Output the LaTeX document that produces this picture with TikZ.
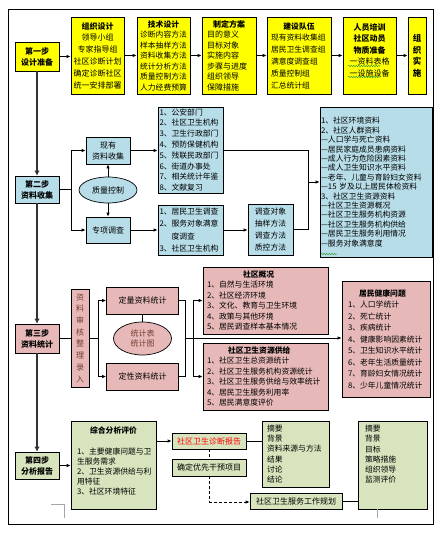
\documentclass[tikz,border=0pt]{standalone}
\usepackage{fontspec}
\setmainfont{Noto Sans CJK SC}
\usetikzlibrary{arrows.meta,shapes.geometric,decorations.pathmorphing}
\definecolor{yel}{RGB}{255,255,0}
\definecolor{blu}{RGB}{183,221,232}
\definecolor{pnk}{RGB}{230,185,184}
\definecolor{grn}{RGB}{215,228,189}
\definecolor{vbrown}{RGB}{120,60,50}
\definecolor{sqg}{RGB}{60,160,60}
\newcommand{\fsz}[2]{\fontsize{#1}{#2}\selectfont}
\newcommand{\tbox}[3]{\begin{minipage}[t][#1][t]{#2}\raggedright #3\end{minipage}}
\begin{document}
\begin{tikzpicture}[x=1pt,y=-1pt,
  box/.style={draw, line width=0.7pt, inner sep=0pt, align=center, font=\fsz{8}{10.5}},
  yb/.style={box, fill=yel},
  bb/.style={box, fill=blu},
  pb/.style={box, fill=pnk},
  gb/.style={box, fill=grn},
  stepbox/.style={font=\bfseries\fsz{8}{11}, minimum width=44pt},
  ln/.style={line width=0.8pt},
  arr/.style={line width=0.8pt, -{Latex[length=4pt,width=3.5pt]}},
  mainln/.style={line width=1.2pt, black!80, -{Latex[length=5pt,width=5.5pt]}},
  dsh/.style={line width=0.8pt, dash pattern=on 3pt off 2pt},
  squig/.style={sqg, line width=0.5pt, decorate, decoration={snake, amplitude=0.7pt, segment length=2.5pt}},
  stray/.style={gray!70, line width=0.7pt}
]
\useasboundingbox (0,0) rectangle (441,535);
\fill[white] (0,0) rectangle (441,535);
\draw[line width=1pt] (8,10) rectangle (433,524);

% ---------- step 1 ----------
\node[yb, stepbox, minimum height=29pt] (s1) at (37,56.5) {第一步\\设计准备};
\node[yb, minimum width=53pt, minimum height=77pt, font=\fsz{8}{11.8}] (org) at (97.5,55.5)
  {\textbf{组织设计}\\领导小组\\专家指导组\\社区诊断计划\\确定诊断社区\\统一安排部署};
\node[yb, minimum width=53pt, minimum height=77pt, font=\fsz{7.8}{10.5}] (tech) at (163.5,55.5)
  {\textbf{技术设计}\\诊断内容方法\\样本抽样方法\\资料收集方法\\统计分析方法\\质量控制方法\\人力经费预算};
\node[yb, minimum width=54pt, minimum height=77pt, align=left, text width=44pt, font=\fsz{8}{10.5}] (plan) at (229,55.5)
  {\makebox[44pt]{\textbf{制定方案}}\\目的意义\\目标对象\\实施内容\\步骤与进度\\组织领导\\保障措施};
\node[yb, minimum width=64pt, minimum height=77pt, align=left, text width=56pt, font=\fsz{7.8}{11.8}] (team) at (299,55.5)
  {\makebox[56pt]{\textbf{建设队伍}}\\现有资料收集组\\居民卫生调查组\\满意度调查组\\质量控制组\\汇总统计组};
\node[yb, minimum width=53pt, minimum height=77pt, font=\fsz{8}{11.5}] (train) at (369.5,55.5)
  {\textbf{人员培训}\\\textbf{社区动员}\\\textbf{物质准备}\\一资料表格\\一设施设备\\ \mbox{}};
\node[yb, minimum width=18pt, minimum height=77pt, font=\bfseries\fsz{8.5}{11.5}] (impl) at (417,55.5)
  {组\\织\\实\\施};
\foreach \a/\b in {s1/org, org/tech, tech/plan, plan/team, team/train, train/impl}
  \draw[arr] (\a.east) -- (\a.east -| \b.west);
\draw[squig] (348,66) -- (380,66);
\draw[squig] (348,77) -- (380,77);

% ---------- step 2 ----------
\node[bb, stepbox, minimum height=27pt] (s2) at (37,189.5) {第二步\\资料收集};
\node[bb, minimum width=44pt, minimum height=27pt, font=\fsz{8}{11}] (xy) at (108,150.5) {现有\\资料收集};
\node[bb, ellipse, minimum width=58pt, minimum height=26pt] (qc) at (108,190) {质量控制};
\node[bb, minimum width=44pt, minimum height=26pt] (zx) at (108,230) {专项调查};
\node[bb, minimum width=65pt, minimum height=86pt, align=left, text width=62pt, font=\fsz{7.8}{10.8}] (l1) at (190.5,150)
  {1、公安部门\\2、社区卫生机构\\3、卫生行政部门\\4、预防保健机构\\5、残联民政部门\\6、街道办事处\\7、相关统计年鉴\\8、文献复习};
\node[bb, minimum width=65pt, minimum height=50pt, align=left, text width=62pt, font=\fsz{7.8}{12.2}] (l2) at (190.5,230)
  {1、居民卫生调查\\2、服务对象满意\\\hspace*{12pt}度调查\\3、社区卫生机构};
\node[bb, minimum width=45pt, minimum height=51pt, font=\fsz{7.8}{12}] (dc) at (270.5,229.5)
  {调查对象\\抽样方法\\调查方法\\质控方法};
\node[bb, minimum width=112pt, minimum height=150pt, align=left, text width=110pt, font=\fsz{7.8}{9.4}] (big) at (376,182)
  {1、社区环境资料\\2、社区人群资料\\—人口学与死亡资料\\—居民家庭成员患病资料\\—成人行为危险因素资料\\—成人卫生知识水平资料\\—老年、儿童与育龄妇女资料\\—15 岁及以上居民体检资料\\3、社区卫生资源资料\\—社区卫生资源概况\\—社区卫生服务机构资源\\—社区卫生服务机构供给\\—居民卫生服务利用情况\\—服务对象满意度};
\draw[squig] (321,254) -- (337,254);

\draw[mainln] (s1.south) -- (s2.north);
\coordinate (b2) at (71,189.5);
\draw[ln] (s2.east) -- (b2);
\draw[arr] (b2) |- (xy.west);
\draw[arr] (b2) |- (zx.west);
\draw[arr] (qc.north) -- (xy.south);
\draw[arr] (qc.south) -- (zx.north);
\draw[arr] (xy.east) -- (xy.east -| l1.west);
\draw[arr] (zx.east) -- (zx.east -| l2.west);
\draw[arr] (l2.east) -- (l2.east -| dc.west);
\coordinate (r2) at (308,182);
\draw[ln] (l1.east) -| (r2);
\draw[ln] (dc.east) -| (r2);
\draw[arr] (r2) -- (big.west);

% ---------- step 3 ----------
\node[pb, stepbox, minimum height=29pt] (s3) at (37,338.5) {第三步\\资料统计};
\node[pb, minimum width=18pt, minimum height=98pt, font=\fsz{8}{11.7}, text=vbrown] (vb) at (80,338)
  {资\\料\\审\\核\\整\\理\\录\\入};
\node[pb, minimum width=72pt, minimum height=27pt] (dl) at (142.5,300.5) {定量资料统计};
\node[pb, minimum width=72pt, minimum height=27pt] (dx) at (142.5,376.5) {定性资料统计};
\node[pb, ellipse, minimum width=58pt, minimum height=33pt, font=\fsz{8}{9.5}, text=vbrown] (tj) at (142.5,338.5) {统计表\\统计图};
\node[pb, minimum width=125pt, minimum height=67pt, align=left, text width=117pt, font=\fsz{7.8}{10.4}] (gk) at (265.5,300.5)
  {\hspace*{36pt}\textbf{社区概况}\\1、自然与生活环境\\2、社区经济环境\\3、文化、教育与卫生环境\\4、政策与其他环境\\5、居民调查样本基本情况};
\node[pb, minimum width=125pt, minimum height=67pt, align=left, text width=117pt, font=\fsz{7.8}{10.4}] (zy) at (265.5,376.5)
  {\hspace*{21pt}\textbf{社区卫生资源供给}\\1、社区卫生总资源统计\\2、社区卫生服务机构资源统计\\3、社区卫生服务供给与效率统计\\4、居民卫生服务利用率\\5、居民满意度评价};
\node[pb, minimum width=88pt, minimum height=116pt, align=left, text width=76pt, font=\fsz{7.8}{11.5}] (jk) at (386,339)
  {\hspace*{11pt}\textbf{居民健康问题}\\1、人口学统计\\2、死亡统计\\3、疾病统计\\4、健康影响因素统计\\5、卫生知识水平统计\\6、老年生活质量统计\\7、育龄妇女情况统计\\8、少年儿童情况统计};

\draw[mainln] (s2.south) -- (s3.north);
\draw[ln] (s3.east) -- (s3.east -| vb.west);
\coordinate (b3) at (98,338);
\draw[ln] (vb.east) -- (b3);
\draw[arr] (b3) |- (dl.west);
\draw[arr] (b3) |- (dx.west);
\draw[ln] (dl.south) -- (tj.north);
\coordinate (m3) at (185,338);
\coordinate (n3) at (193,338);
\draw[ln] (dl.east) -| (m3);
\draw[ln] (dx.east) -| (m3);
\draw[arr] (m3) -- (m3 -| jk.west);
\draw[arr] (n3) |- (gk.west);
\draw[arr] (n3) |- (zy.west);

% ---------- step 4 ----------
\node[gb, stepbox, minimum height=27pt] (s4) at (37,465.5) {第四步\\分析报告};
\node[gb, minimum width=85pt, minimum height=88pt, font=\fsz{7.8}{10}] (zh) at (113.5,465)
  {\tbox{76pt}{73pt}{\makebox[73pt]{\textbf{综合分析评价}}\\[11pt]1、主要健康问题与卫\\生服务需求\\2、卫生资源供给与利\\用特征\\3、社区环境特征}};
\node[gb, minimum width=74pt, minimum height=16pt, text=red] (bg) at (209,441) {社区卫生诊断报告};
\node[gb, minimum width=74pt, minimum height=17pt] (yx) at (209,467.5) {确定优先干预项目};
\node[gb, minimum width=92pt, minimum height=16pt] (gh) at (296,501) {社区卫生服务工作规划};
\node[gb, minimum width=67pt, minimum height=66pt, align=left, text width=57pt, font=\fsz{7.8}{10.2}] (rp) at (295.5,454)
  {摘要\\背景\\资料来源与方法\\结果\\讨论\\结论};
\node[gb, minimum width=69pt, minimum height=88pt, font=\fsz{7.8}{10.2}] (pl) at (392.5,465)
  {\tbox{80pt}{55pt}{摘要\\背景\\目标\\策略措施\\组织领导\\监测评价}};

\draw[mainln] (s3.south) -- (s4.north);
\draw[arr] (s4.east) -- (s4.east -| zh.west);
\draw[arr] (zh.east |- bg.west) -- (bg.west);
\draw[ln] (bg.east) -- (bg.east -| rp.west);
\draw[dsh] (bg.south) -- (yx.north);
\coordinate (d4) at (209,502);
\draw[dsh] (yx.south) -- (d4);
\draw[dsh, -{Latex[length=4pt,width=3.5pt]}] (d4) -- (d4 -| gh.west);
\draw[ln] (gh.east) -- (gh.east -| pl.west);

% stray marks
\draw[stray] (51,504) -- (64,504) -- (64,518);
\draw[stray] (377,509) -- (377,518);
\end{tikzpicture}
\end{document}
